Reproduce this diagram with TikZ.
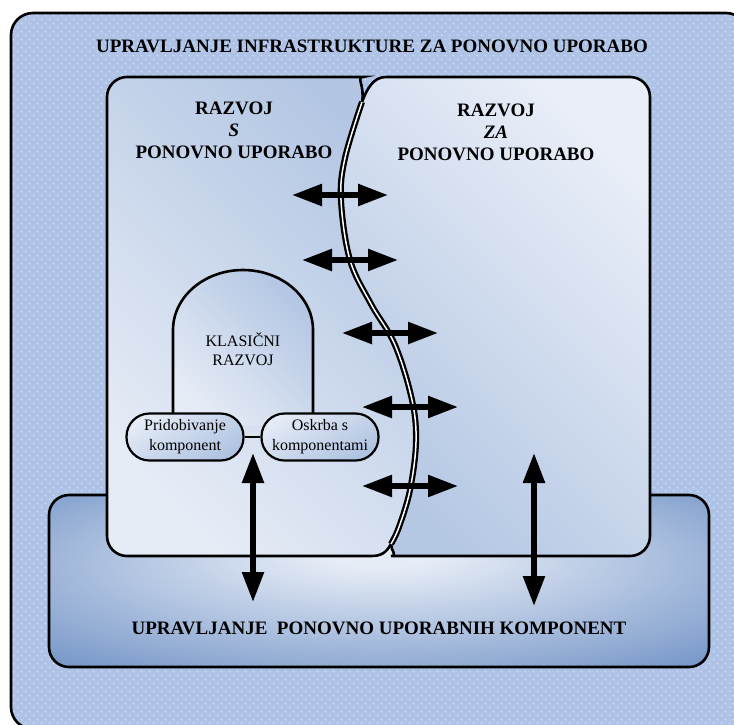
\documentclass[tikz,border=0pt]{standalone}
\usepackage{fontspec}
\setmainfont{Liberation Serif}
\usetikzlibrary{arrows.meta,patterns.meta}
\definecolor{framefill}{HTML}{AEC3E5}
\definecolor{dotcolor}{HTML}{DCE5F4}
\definecolor{leftlight}{HTML}{E6ECF6}
\definecolor{leftdark}{HTML}{B3C6E3}
\definecolor{rightlight}{HTML}{E9EEF8}
\definecolor{rightdark}{HTML}{B4C7E3}
\definecolor{ovallight}{HTML}{E4EBF6}
\definecolor{ovaldark}{HTML}{AFC3E1}
\definecolor{glowlight}{HTML}{E7EDF7}
\definecolor{glowdark}{HTML}{7898C9}
\pgfdeclareradialshading{bottomglow}{\pgfpoint{0bp}{9bp}}{%
  color(0bp)=(glowlight); color(4bp)=(glowlight);%
  color(36bp)=(glowdark); color(50bp)=(glowdark)}
\tikzdeclarepattern{
  name=framedots, type=colored,
  bottom left={(0pt,0pt)}, top right={(8pt,8pt)},
  tile size={(8pt,8pt)},
  code={\fill[dotcolor] (2pt,2pt) circle (0.9pt);
        \fill[dotcolor] (6pt,6pt) circle (0.9pt);}
}
\tikzset{%
  boxline/.style   = {draw, line width=2.6pt},%
  headline/.style  = {font=\bfseries\fontsize{19}{22}\selectfont, align=center},%
  compbox/.style   = {shape=rectangle, rounded corners=23pt,%
                      draw, line width=2.2pt, align=center,%
                      minimum width=117pt, minimum height=47pt, inner sep=0pt,%
                      font=\fontsize{16}{20}\selectfont,%
                      top color=ovallight, bottom color=ovaldark, shading angle=30},%
  bigarrow/.style  = {line width=5.5pt, >={Triangle[length=30pt,width=21pt]}, <->}%
}
\begin{document}
\begin{tikzpicture}[x=1pt,y=-1pt]
\useasboundingbox (0,0) rectangle (734,724);
\begin{scope}
	\clip (0,0) rectangle (734,724);
	\fill[framefill, rounded corners=22pt] (11,13) rectangle (748,729);
	\fill[pattern=framedots, rounded corners=22pt] (11,13) rectangle (748,729);
	\draw[line width=2.6pt, rounded corners=22pt] (11,13) rectangle (748,729);
\end{scope}
	\shade[shading=bottomglow, rounded corners=20pt] (49,495) rectangle (709,667);
	\draw[boxline, rounded corners=20pt] (49,495) rectangle (709,667);
	\coordinate (w1) at (362,102);
	\coordinate (w2) at (345,158);
	\coordinate (w3) at (341,200);
	\coordinate (w4) at (350,260);
	\coordinate (w5) at (371,304);
	\coordinate (w6) at (395,345);
	\coordinate (w7) at (412,400);
	\coordinate (w8) at (416,442);
	\coordinate (w9) at (410,490);
	\coordinate (w10) at (399,527);
	\coordinate (w11) at (391,544);
	\shadedraw[boxline, top color=leftdark, bottom color=leftlight, shading angle=-45]
		(w11) .. controls (386,553) and (381,556) .. (371,556)
		[rounded corners=20pt] -- (107,556) -- (107,77) -- (343,77) [sharp corners]
		.. controls (356,77) and (365,86) .. (w1)
		-- plot[smooth, tension=0.6] coordinates {(w1) (w2) (w3) (w4) (w5) (w6) (w7) (w8) (w9) (w10) (w11)}
		-- cycle;
	\shadedraw[boxline, top color=rightlight, bottom color=rightdark, shading angle=-45]
		(386,77) [rounded corners=20pt] -- (650,77) -- (650,556) -- (411,556) [sharp corners]
		.. controls (398,556) and (391,551) .. (w11)
		-- plot[smooth, tension=0.6] coordinates {(w11) (w10) (w9) (w8) (w7) (w6) (w5) (w4) (w3) (w2) (w1)}
		.. controls (367,89) and (373,77) .. (386,77) -- cycle;
	\draw[line width=2.3pt, double=white, double distance=1.5pt]
		plot[smooth, tension=0.6] coordinates {(w1) (w2) (w3) (w4) (w5) (w6) (w7) (w8) (w9) (w10) (w11)};
	\shade[top color=leftdark, bottom color=leftlight, shading angle=-45]
		(173,425) -- (173,330) arc[start angle=180, end angle=360, x radius=70, y radius=60] -- (313,425) -- cycle;
	\draw[line width=2.6pt]
		(173,425) -- (173,330) arc[start angle=180, end angle=360, x radius=70, y radius=60] -- (313,425);
	\node[font=\fontsize{16}{19}\selectfont, align=center] (klasicni) at (243,349) {KLASIČNI\\RAZVOJ};
	\node[compbox] (pridobivanje) at (185,437) {Pridobivanje\\komponent};
	\node[compbox] (oskrba) at (320,437) {Oskrba s\\komponentami};
	\draw[line width=2pt] (pridobivanje) -- (oskrba);
	\node[headline] (infra) at (372,46) {UPRAVLJANJE INFRASTRUKTURE ZA PONOVNO UPORABO};
	\node[headline] (razvojs) at (234,130) {RAZVOJ\\\textit{S}\\PONOVNO UPORABO};
	\node[headline] (razvojza) at (496,132) {RAZVOJ\\\textit{ZA}\\PONOVNO UPORABO};
	\node[headline] (komponente) at (379,628) {UPRAVLJANJE\ \ PONOVNO UPORABNIH KOMPONENT};
	\foreach \i/\x/\y in {1/340/195, 2/350/260, 3/390/333, 4/410/407, 5/410/486} {
		\coordinate (wl\i) at (\x-48,\y);
		\coordinate (wr\i) at (\x+48,\y);
		\draw[bigarrow] (wl\i) -- (wr\i);
	}
	\coordinate (lefttop) at (253,453);
	\coordinate (leftbot) at (253,602);
	\coordinate (righttop) at (534,453);
	\coordinate (rightbot) at (534,606);
	\draw[bigarrow] (lefttop) -- (leftbot);
	\draw[bigarrow] (righttop) -- (rightbot);
\end{tikzpicture}
\end{document}
